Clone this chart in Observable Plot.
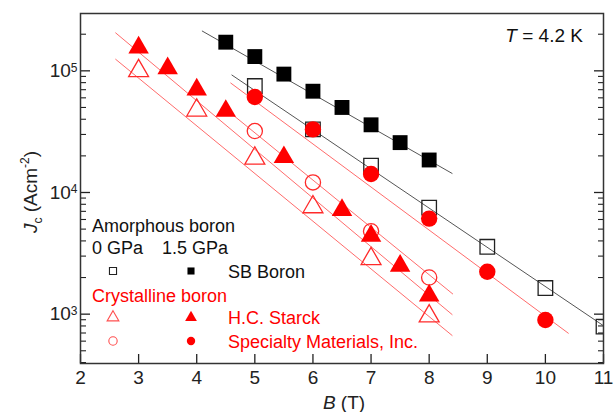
<!DOCTYPE html>
<html><head><meta charset="utf-8">
<script src="https://cdn.jsdelivr.net/npm/d3@7"></script>
<script src="https://cdn.jsdelivr.net/npm/@observablehq/plot@0.6"></script>
<style>
body{margin:0;background:#fff}#chart{width:616px;height:412px}
#chart svg g[aria-label$="tick label"] text{font-size:19px}
</style>
</head><body><div id="chart"></div>
<script>
// ---- data ----
const xTicks = [2, 3, 4, 5, 6, 7, 8, 9, 10, 11];
const yMajor = [1e3, 1e4, 1e5];
const yMinor = [400, 500, 600, 700, 800, 900, 2000, 3000, 4000, 5000, 6000, 7000, 8000, 9000,
  20000, 30000, 40000, 50000, 60000, 70000, 80000, 90000, 200000];

// SB Boron (amorphous)
const sbB15 = [4.5, 5, 5.5, 6, 6.5, 7, 7.5, 8];
const sbJ15 = [1.72e5, 1.31e5, 9.4e4, 6.8e4, 5.0e4, 3.6e4, 2.57e4, 1.85e4];
const sbB0 = [5, 6, 7, 8, 9, 10, 11];
const sbJ0 = [7.5e4, 3.3e4, 1.66e4, 7.5e3, 3.58e3, 1.64e3, 790];
// Specialty Materials, Inc. (crystalline)
const spB15 = [5, 6, 7, 8, 9, 10];
const spJ15 = [6.1e4, 3.3e4, 1.42e4, 6.1e3, 2.23e3, 895];
const spB0 = [5, 6, 7, 8];
const spJ0 = [3.2e4, 1.21e4, 4.8e3, 2.0e3];
// H.C. Starck (crystalline)
const hcB15 = [3, 3.5, 4, 4.5, 5.5, 6.5, 7, 7.5, 8];
const hcJ15 = [1.55e5, 1.05e5, 7.0e4, 4.68e4, 1.95e4, 7.16e3, 4.4e3, 2.5e3, 1.42e3];
const hcB0 = [3, 4, 5, 6, 7, 8];
const hcJ0 = [1.0e5, 4.74e4, 1.91e4, 7.6e3, 2.85e3, 964];

// fitted lines (start / end)
const fitSeries = ["sb15", "sb0", "sp15", "sp0", "hc15", "hc0"];
const fitB0 = [4.09, 4.60, 4.58, 4.60, 2.60, 2.60];
const fitB1 = [8.40, 11.0, 10.40, 8.41, 8.40, 8.40];
const fitJ0 = [2.13e5, 9.27e4, 7.97e4, 4.43e4, 2.06e5, 1.25e5];
const fitJ1 = [1.43e4, 803, 694, 1.46e3, 988, 665];

// legend texts
const groupLabels = ["Amorphous boron", "Crystalline boron"];
const pressureLabels = ["0 GPa", "1.5 GPa"];
const materialLabels = ["SB Boron", "H.C. Starck", "Specialty Materials, Inc."];
const tempLabel = "= 4.2 K";

// ---- build ----
const pts = (B, J) => B.map((b, i) => ({B: b, J: J[i]}));
const fits = fitSeries.map((s, i) => ({s, B0: fitB0[i], B1: fitB1[i], J0: fitJ0[i], J1: fitJ1[i]}));
const RED = "#ff0000", LRED = "#ff6b6b", OPENRED = "#ff2a2a", DARK = "#222";
const lineColor = s => s.startsWith("sb") ? "#555" : LRED;

const FONT = "'Liberation Sans', Arial, Helvetica, sans-serif";

const plot = Plot.plot({
  width: 616, height: 412,
  marginLeft: 80, marginRight: 13, marginTop: 13, marginBottom: 49,
  x: {domain: [2, 11]},
  y: {type: "log", domain: [393, 2.96e5]},
  style: {fontFamily: FONT, fontSize: "19px", background: "white", color: "#222", overflow: "visible"},
  marks: [
    // axes: inward ticks
    Plot.axisX(xTicks, {anchor: "bottom", tickSize: -9, tickFormat: () => "", strokeWidth: 1.3}),
    Plot.axisX(xTicks, {anchor: "bottom", tickSize: 0, tickPadding: 7, tickFormat: d => String(d), label: null, fill: "#222"}),
    Plot.axisY(yMajor, {anchor: "left", tickSize: -10, tickFormat: () => "", strokeWidth: 1.3}),
    Plot.axisY(yMinor, {anchor: "left", tickSize: -6, tickFormat: () => "", strokeWidth: 1.1}),
    Plot.axisY(yMajor, {anchor: "right", tickSize: -10, tickFormat: () => "", strokeWidth: 1.3}),
    Plot.axisY(yMinor, {anchor: "right", tickSize: -6, tickFormat: () => "", strokeWidth: 1.1}),
    Plot.axisY(yMajor, {anchor: "left", tickSize: 0, tickPadding: 3, tickFormat: d => "10^" + Math.round(Math.log10(d)), label: null, fill: "#222"}),
    // fit lines
    Plot.link(fits, {x1: "B0", y1: "J0", x2: "B1", y2: "J1", stroke: d => lineColor(d.s), strokeWidth: 1, clip: true}),
    // open symbols (0 GPa)
    Plot.dot(pts(sbB0, sbJ0), {x: "B", y: "J", symbol: "square", r: 8.2, stroke: DARK, strokeWidth: 1.3, fill: "none", clip: true}),
    Plot.dot(pts(hcB0, hcJ0), {x: "B", y: "J", symbol: "triangle", r: 7.4, stroke: OPENRED, strokeWidth: 1.3, fill: "none"}),
    Plot.dot(pts(spB0, spJ0), {x: "B", y: "J", symbol: "circle", r: 7.6, stroke: OPENRED, strokeWidth: 1.3, fill: "none"}),
    // filled symbols (1.5 GPa)
    Plot.dot(pts(sbB15, sbJ15), {x: "B", y: "J", symbol: "square", r: 8.4, fill: "#000", stroke: null}),
    Plot.dot(pts(hcB15, hcJ15), {x: "B", y: "J", symbol: "triangle", r: 7.6, fill: RED, stroke: null}),
    Plot.dot(pts(spB15, spJ15), {x: "B", y: "J", symbol: "circle", r: 8.2, fill: RED, stroke: null}),
    Plot.frame({stroke: "#333", strokeWidth: 1.5})
  ]
});
document.getElementById("chart").appendChild(plot);

// ---- post-processing: superscripts on y tick labels ----
const svg = d3.select(plot);
svg.selectAll("text").each(function () {
  const t = d3.select(this);
  const tspans = t.selectAll("tspan");
  const nodes = tspans.empty() ? [this] : tspans.nodes();
  nodes.forEach(n => {
    const s = n.textContent;
    const m = /^10\^(\d)$/.exec(s);
    if (m) {
      const el = d3.select(n);
      el.text(null);
      el.append("tspan").text("10");
      el.append("tspan").attr("dy", "-0.45em").attr("font-size", "12px").text(m[1]);
    }
  });
});

// ---- annotations ----
const g = svg.append("g").attr("font-family", FONT).attr("text-anchor", "start");

// temperature
g.append("text").attr("x", 583).attr("y", 42).attr("text-anchor", "end").attr("font-size", 19).attr("fill", "#111")
  .call(t => { t.append("tspan").attr("font-style", "italic").text("T"); t.append("tspan").text(" " + tempLabel); });

// x label
g.append("text").attr("x", 344).attr("y", 409).attr("text-anchor", "middle").attr("font-size", 19).attr("fill", "#222")
  .call(t => { t.append("tspan").attr("font-style", "italic").text("B"); t.append("tspan").text(" (T)"); });

// y label
g.append("text").attr("transform", "translate(37,192) rotate(-90)").attr("text-anchor", "middle").attr("font-size", 19).attr("fill", "#222")
  .call(t => {
    t.append("tspan").attr("font-style", "italic").text("J");
    t.append("tspan").attr("font-size", 12).attr("dy", 5).text("c");
    t.append("tspan").attr("dy", -5).text(" (Acm");
    t.append("tspan").attr("font-size", 12).attr("dy", -8).text("-2");
    t.append("tspan").attr("dy", 8).text(")");
  });

// legend
const LX = 92, C0 = 113, C1 = 191, TX = 228;
const leg = g.append("g").attr("font-size", 18).attr("text-anchor", "start");
leg.append("text").attr("x", LX).attr("y", 231.5).attr("fill", "#111").text(groupLabels[0]);
leg.append("text").attr("x", LX).attr("y", 254).attr("fill", "#111").text(pressureLabels[0]);
leg.append("text").attr("x", 162).attr("y", 254).attr("fill", "#111").text(pressureLabels[1]);
leg.append("text").attr("x", LX).attr("y", 301.5).attr("fill", RED).text(groupLabels[1]);
const rows = [
  {y: 271, sym: d3.symbolSquare, size: 50, open: DARK, fill: "#000", color: "#111", label: materialLabels[0]},
  {y: 317.5, sym: d3.symbolTriangle, size: 60, open: "#ff5050", fill: RED, color: RED, label: materialLabels[1]},
  {y: 341, sym: d3.symbolCircle, size: 55, open: "#ff5050", fill: RED, color: RED, label: materialLabels[2]}
];
rows.forEach(r => {
  leg.append("path").attr("d", d3.symbol(r.sym, r.size)()).attr("transform", `translate(${C0},${r.y})`)
    .attr("fill", "none").attr("stroke", r.open).attr("stroke-width", 1.1);
  leg.append("path").attr("d", d3.symbol(r.sym, r.size)()).attr("transform", `translate(${C1},${r.y})`)
    .attr("fill", r.fill);
  leg.append("text").attr("x", TX).attr("y", r.y + 6.5).attr("fill", r.color).text(r.label);
});
</script>
</body></html>
